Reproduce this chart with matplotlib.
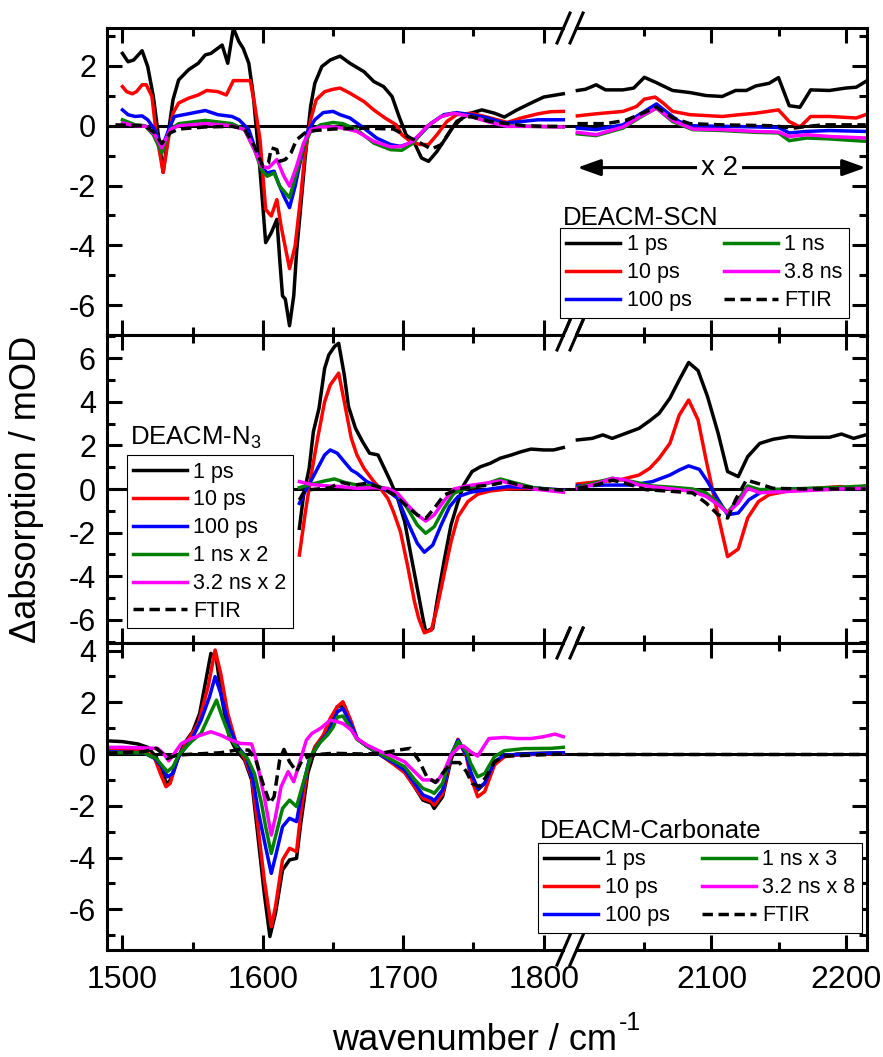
"""
Transient IR difference spectra of three DEACM compounds (broken wavenumber axis).
"""

import numpy as np
import matplotlib
matplotlib.use("Agg")
import matplotlib.pyplot as plt
from matplotlib.ticker import AutoMinorLocator

plt.rcParams['font.family'] = ['Liberation Sans', 'DejaVu Sans']
plt.rcParams['mathtext.default'] = 'regular'
plt.rcParams['axes.unicode_minus'] = False

# ---------------- DATA ----------------
# DEACM-SCN, right part (> 2000 cm-1) is shown x 2
SCN_LABELS = ["1 ps", "10 ps", "100 ps", "1 ns", "3.8 ns", "FTIR"]
SCN_1PS_X = [1500, 1504, 1508, 1514, 1518, 1522, 1526, 1529, 1533, 1536, 1540, 1547, 1554, 1559, 1563,
             1571, 1575, 1579, 1583, 1586, 1590, 1593, 1597, 1600, 1602, 1606, 1610, 1612, 1614, 1616,
             1619, 1622, 1624, 1627, 1630, 1634, 1637, 1642, 1648, 1655, 1662, 1672, 1679, 1686, 1692,
             1697, 1702, 1708, 1713, 1718, 1724, 1731, 1738, 1748, 1756, 1765, 1772, 1781, 1791, 1800, 1814,
             2000, 2006, 2014, 2021, 2034, 2042, 2050, 2059, 2071, 2084, 2096, 2108, 2118, 2126, 2133,
             2143, 2150, 2158, 2166, 2174, 2188, 2200, 2208, 2215]
SCN_1PS_Y = [2.42, 2.14, 2.2, 2.51, 1.98, 0.98, -0.47, -1.56, -0.13, 0.87, 1.53, 1.87, 2.09, 2.37, 2.42,
             2.7, 2.09, 3.26, 2.81, 2.59, 2.09, 1.09, -0.91, -2.69, -3.91, -3.58, -3.13, -4.47, -5.69, -5.8,
             -6.69, -5.69, -4.24, -2.69, -1.13, 0.64, 1.42, 1.98, 2.2, 2.33, 2.09, 1.81, 1.48, 1.31, 0.98,
             0.31, -0.3, -0.58, -1.08, -1.19, -0.86, -0.36, 0.14, 0.42, 0.53, 0.42, 0.29, 0.53, 0.76, 0.96, 1.07,
             1.18, 1.22, 1.37, 1.2, 1.2, 1.26, 1.62, 1.44, 1.18, 1.11, 1.01, 0.98, 1.18, 1.18, 1.33,
             1.42, 1.61, 0.67, 0.62, 1.2, 1.18, 1.26, 1.29, 1.48]
SCN_10PS_X = [1500, 1503, 1507, 1510, 1514, 1517, 1521, 1524, 1529, 1533, 1536, 1540, 1547, 1554, 1560,
              1568, 1574, 1579, 1591, 1594, 1598, 1602, 1606, 1610, 1613, 1619, 1623, 1627, 1630, 1634,
              1638, 1644, 1650, 1655, 1662, 1672, 1679, 1687, 1695, 1699, 1705, 1712, 1718, 1724, 1731,
              1738, 1748, 1758, 1767, 1774, 1784, 1796, 1805, 1814,
              2000, 2014, 2034, 2044, 2050, 2058, 2064, 2071, 2084, 2108, 2121, 2133, 2150, 2158, 2166,
              2174, 2188, 2208, 2215]
SCN_10PS_Y = [1.31, 1.14, 1.07, 1.14, 1.37, 1.37, 0.98, -0.24, -1.56, -0.36, 0.42, 0.76, 0.92, 1.03, 1.18,
              1.14, 1.03, 1.51, 1.51, 0.76, -0.47, -2.8, -3.02, -2.47, -3.36, -4.78, -4.02, -2.36, -0.91, 0.2,
              0.87, 1.14, 1.22, 1.26, 1.09, 0.81, 0.53, 0.26, 0.03, -0.3, -0.52, -0.63, -0.63, -0.3, 0.14,
              0.37, 0.42, 0.31, 0.2, 0.11, 0.26, 0.4, 0.47, 0.48,
              0.33, 0.4, 0.48, 0.64, 0.89, 0.96, 0.76, 0.48, 0.37, 0.31, 0.37, 0.42, 0.53, 0.14, -0.04,
              0.31, 0.31, 0.26, 0.37]
SCN_100PS_X = [1500, 1504, 1509, 1514, 1518, 1523, 1528, 1533, 1537, 1547, 1559, 1568, 1578, 1583, 1590,
               1594, 1599, 1603, 1608, 1611, 1615, 1619, 1623, 1628, 1632, 1637, 1643, 1650, 1655, 1662,
               1672, 1681, 1691, 1698, 1705, 1712, 1720, 1729, 1738, 1748, 1760, 1772, 1784, 1796, 1814,
               2000, 2014, 2034, 2046, 2059, 2066, 2076, 2086, 2108, 2133, 2150, 2158, 2171, 2188, 2215]
SCN_100PS_Y = [0.53, 0.37, 0.31, 0.33, 0.2, -0.13, -0.74, -0.13, 0.31, 0.4, 0.51, 0.37, 0.31, 0.2, -0.13,
               -0.69, -1.36, -1.58, -1.52, -1.91, -2.36, -2.74, -2.02, -0.91, -0.19, 0.2, 0.44, 0.48, 0.37, 0.26,
               -0.08, -0.41, -0.63, -0.69, -0.58, -0.3, 0.09, 0.37, 0.44, 0.37, 0.26, 0.09, 0.14, 0.2, 0.2,
               -0.08, -0.13, 0.03, 0.37, 0.73, 0.48, 0.14, 0.0, -0.02, -0.04, -0.06, -0.24, -0.19, -0.16, -0.19]
SCN_1NS_X = [1500, 1509, 1516, 1522, 1528, 1534, 1540, 1559, 1578, 1587, 1594, 1599, 1603, 1608, 1612,
             1619, 1624, 1629, 1634, 1641, 1650, 1657, 1667, 1679, 1691, 1699, 1707, 1717, 1727, 1736,
             1748, 1762, 1772, 1791, 1814,
             2000, 2014, 2034, 2046, 2059, 2071, 2086, 2108, 2133, 2150, 2158, 2171, 2188, 2215]
SCN_1NS_Y = [0.2, 0.03, 0.0, -0.3, -0.91, -0.13, 0.07, 0.18, 0.07, -0.13, -0.8, -1.47, -1.69, -1.58, -2.02,
             -2.41, -1.58, -0.69, -0.19, 0.03, 0.11, 0.07, -0.13, -0.58, -0.8, -0.82, -0.58, -0.02, 0.31, 0.42,
             0.31, 0.14, 0.0, -0.02, -0.04,
             -0.27, -0.33, -0.08, 0.26, 0.59, 0.14, -0.13, -0.16, -0.22, -0.24, -0.5, -0.41, -0.44, -0.52]
SCN_38NS_X = [1500, 1509, 1517, 1523, 1528, 1534, 1540, 1559, 1578, 1587, 1594, 1599, 1604, 1610, 1615,
              1619, 1624, 1629, 1634, 1642, 1650, 1657, 1667, 1679, 1691, 1699, 1707, 1717, 1727, 1736,
              1748, 1762, 1774, 1791, 1814,
              2000, 2014, 2034, 2046, 2059, 2071, 2086, 2108, 2133, 2150, 2158, 2171, 2188, 2215]
SCN_38NS_Y = [0.09, 0.0, -0.02, -0.3, -0.74, -0.13, 0.0, 0.07, 0.0, -0.13, -0.8, -1.36, -1.41, -1.13, -1.69,
              -2.02, -1.36, -0.58, -0.13, -0.04, -0.04, -0.08, -0.19, -0.52, -0.71, -0.69, -0.52, -0.02, 0.31, 0.42,
              0.31, 0.11, -0.02, -0.02, -0.04,
              -0.22, -0.3, -0.04, 0.29, 0.59, 0.18, -0.11, -0.13, -0.19, -0.21, -0.36, -0.3, -0.36, -0.41]
SCN_FTIR_X = [1495, 1516, 1523, 1528, 1534, 1540, 1559, 1578, 1587, 1594, 1600, 1604, 1606, 1610, 1612,
              1616, 1620, 1624, 1630, 1637, 1650, 1672, 1693, 1703, 1710, 1720, 1727, 1734, 1741, 1748,
              1762, 1774, 1786, 1800, 1814,
              2000, 2021, 2036, 2046, 2059, 2071, 2084, 2108, 2146, 2161, 2168, 2183, 2215]
SCN_FTIR_Y = [0.03, 0.0, -0.24, -0.6, -0.24, -0.11, -0.04, -0.02, -0.11, -0.69, -1.36, -1.24, -0.74, -0.8, -1.19,
              -1.13, -0.91, -0.47, -0.24, -0.16, -0.11, -0.08, -0.11, -0.36, -0.52, -0.78, -0.63, -0.13, 0.22, 0.31,
              0.14, 0.07, 0.0, -0.02, -0.02,
              0.07, 0.07, 0.18, 0.37, 0.62, 0.26, 0.07, 0.03, 0.0, -0.08, -0.04, 0.03, 0.03]

# DEACM-N3
N3_LABELS = ["1 ps", "10 ps", "100 ps", "1 ns x 2", "3.2 ns x 2", "FTIR"]
N3_1PS_X = [1626, 1629, 1633, 1636, 1640, 1644, 1647, 1651, 1654, 1658, 1661, 1666, 1671, 1676, 1682,
            1686, 1691, 1696, 1701, 1705, 1710, 1714, 1716, 1721, 1724, 1729, 1734, 1739, 1743, 1749,
            1755, 1762, 1769, 1777, 1784, 1791, 1800, 1807, 1814,
            2000, 2011, 2019, 2026, 2036, 2046, 2054, 2061, 2069, 2076, 2083, 2090, 2097, 2105, 2112,
            2120, 2127, 2136, 2146, 2158, 2171, 2188, 2197, 2206, 2215]
N3_1PS_Y = [-1.8, -0.28, 0.95, 2.63, 3.7, 5.53, 6.15, 6.53, 6.68, 5.23, 3.78, 2.78, 2.17, 1.64, 1.56,
            1.02, 0.34, -0.43, -1.5, -2.87, -4.56, -5.93, -6.54, -6.39, -5.17, -3.33, -1.65, -0.58, 0.18, 0.8,
            1.02, 1.18, 1.41, 1.56, 1.71, 1.83, 1.79, 1.79, 1.9,
            2.25, 2.32, 2.48, 2.32, 2.55, 2.78, 3.13, 3.47, 4.16, 5.0, 5.8, 5.43, 4.25, 2.55, 0.8,
            0.57, 1.48, 2.09, 2.28, 2.4, 2.37, 2.37, 2.52, 2.32, 2.48]
N3_10PS_X = [1626, 1630, 1634, 1639, 1644, 1648, 1654, 1658, 1663, 1667, 1672, 1679, 1684, 1689, 1693,
             1698, 1703, 1708, 1711, 1715, 1720, 1724, 1729, 1734, 1739, 1746, 1753, 1762, 1774, 1791, 1814,
             2000, 2016, 2031, 2046, 2054, 2061, 2069, 2076, 2083, 2090, 2096, 2104, 2112, 2120, 2127,
             2135, 2143, 2158, 2176, 2196, 2206, 2215]
N3_10PS_Y = [-3.03, -1.19, 0.49, 2.32, 4.0, 4.77, 5.31, 4.0, 2.32, 1.56, 0.95, 0.34, 0.0, -0.43, -1.04,
             -1.96, -3.49, -5.17, -5.93, -6.59, -6.47, -5.47, -3.94, -2.42, -1.27, -0.58, -0.24, -0.09, 0.0, 0.03, -0.05,
             0.23, 0.34, 0.41, 0.64, 0.95, 1.41, 2.09, 3.39, 4.08, 3.17, 1.33, -0.95, -3.1, -2.75, -1.33,
             -0.58, -0.26, -0.08, 0.03, 0.11, 0.03, 0.14]
N3_100PS_X = [1626, 1630, 1634, 1639, 1644, 1648, 1653, 1658, 1663, 1667, 1674, 1682, 1689, 1696, 1703,
              1710, 1715, 1721, 1727, 1733, 1739, 1748, 1762, 1774, 1791, 1814,
              2000, 2021, 2041, 2056, 2069, 2076, 2083, 2091, 2097, 2105, 2112, 2120, 2128, 2138, 2158, 2215]
N3_100PS_Y = [-0.66, -0.12, 0.34, 0.95, 1.56, 1.79, 1.64, 1.25, 0.87, 0.72, 0.34, 0.11, -0.09, -0.43, -1.5,
              -2.49, -2.9, -2.57, -1.65, -0.81, -0.35, -0.15, 0.0, 0.11, 0.06, -0.05,
              0.14, 0.18, 0.18, 0.34, 0.64, 0.87, 1.06, 0.9, 0.35, -0.49, -1.18, -1.1, -0.49, -0.11, 0.0, 0.03]
N3_1NS_X = [1626, 1634, 1644, 1651, 1658, 1667, 1679, 1689, 1696, 1703, 1710, 1716, 1722, 1729, 1736,
            1746, 1758, 1769, 1781, 1793, 1814,
            2000, 2026, 2041, 2056, 2071, 2086, 2096, 2105, 2112, 2120, 2127, 2136, 2158, 2196, 2215]
N3_1NS_Y = [0.06, 0.21, 0.37, 0.46, 0.31, 0.18, 0.15, 0.0, -0.24, -0.89, -1.65, -2.03, -1.73, -0.89, -0.2,
            0.06, 0.21, 0.46, 0.26, 0.06, -0.09,
            0.08, 0.49, 0.34, 0.14, 0.08, 0.0, -0.18, -0.64, -1.07, -0.49, 0.14, -0.03, 0.0, 0.08, 0.14]
N3_32NS_X = [1626, 1634, 1644, 1655, 1667, 1679, 1689, 1696, 1703, 1710, 1716, 1722, 1729, 1736, 1746,
             1758, 1769, 1781, 1793, 1814,
             2000, 2014, 2026, 2036, 2046, 2059, 2071, 2086, 2096, 2105, 2112, 2120, 2127, 2136, 2158, 2196, 2215]
N3_32NS_Y = [0.34, 0.21, 0.15, 0.11, 0.03, 0.06, 0.03, -0.2, -0.73, -1.19, -1.47, -1.19, -0.55, 0.0, 0.15,
             0.26, 0.37, 0.18, 0.0, -0.15,
             0.03, 0.23, 0.49, 0.41, 0.18, 0.08, 0.0, -0.11, -0.34, -0.72, -1.1, -0.64, 0.03, -0.17, -0.11, 0.0, 0.03]
N3_FTIR_X = [1626, 1630, 1639, 1648, 1655, 1665, 1674, 1684, 1693, 1703, 1710, 1716, 1722, 1729, 1739,
             1750, 1762, 1774, 1786, 1800, 1814,
             2000, 2014, 2026, 2036, 2051, 2071, 2086, 2096, 2105, 2112, 2118, 2126, 2136, 2146, 2171, 2215]
N3_FTIR_Y = [-0.5, -0.05, 0.0, 0.06, 0.31, 0.18, 0.26, 0.06, -0.24, -0.81, -1.19, -1.35, -0.89, -0.28, 0.0,
             0.11, 0.18, 0.34, 0.11, 0.0, -0.05,
             0.03, 0.18, 0.41, 0.26, -0.03, -0.11, -0.18, -0.64, -1.18, -1.33, -0.49, 0.41, 0.23, 0.03, 0.0, 0.0]

# DEACM-Carbonate
CARB_LABELS = ["1 ps", "10 ps", "100 ps", "1 ns x 3", "3.2 ns x 8", "FTIR"]
CARB_1PS_X = [1489, 1500, 1511, 1518, 1524, 1528, 1532, 1534, 1539, 1544, 1550, 1555, 1559, 1563, 1567,
              1571, 1576, 1581, 1587, 1592, 1596, 1601, 1605, 1609, 1614, 1619, 1624, 1627, 1632, 1637,
              1641, 1646, 1650, 1653, 1658, 1663, 1667, 1674, 1684, 1693, 1701, 1708, 1714, 1720, 1722,
              1728, 1734, 1739, 1745, 1748, 1753, 1758, 1765, 1772, 1781, 1796, 1814]
CARB_1PS_Y = [0.51, 0.48, 0.39, 0.26, -0.1, -0.68, -1.2, -1.0, -0.23, 0.41, 0.86, 1.57, 2.73, 3.89, 3.63,
              2.08, 0.67, 0.15, -0.23, -1.0, -2.93, -5.38, -7.05, -6.15, -4.48, -4.09, -4.03, -2.68, -0.75, 0.15,
              0.48, 0.93, 1.44, 1.83, 1.89, 1.18, 0.6, 0.31, -0.04, -0.36, -0.68, -1.26, -1.78, -1.9, -2.1,
              -1.65, -0.23, 0.54, -0.04, -0.75, -1.39, -1.13, -0.36, -0.1, 0.0, 0.03, 0.05]
CARB_10PS_X = [1489, 1500, 1515, 1523, 1527, 1531, 1534, 1539, 1546, 1554, 1561, 1566, 1570, 1575, 1581,
               1587, 1592, 1596, 1601, 1606, 1609, 1614, 1619, 1624, 1627, 1632, 1637, 1643, 1648, 1653,
               1657, 1663, 1667, 1674, 1684, 1693, 1701, 1708, 1714, 1720, 1722, 1728, 1734, 1739, 1745,
               1748, 1753, 1758, 1765, 1772, 1781, 1814]
CARB_10PS_Y = [0.22, 0.18, 0.15, -0.17, -0.75, -1.26, -1.13, -0.23, 0.48, 1.18, 2.6, 4.02, 3.11, 1.57, 0.41,
               -0.17, -0.88, -2.55, -4.86, -6.67, -5.89, -4.09, -3.64, -3.77, -2.29, -0.49, 0.28, 0.73, 1.38, 1.83,
               2.02, 1.25, 0.6, 0.31, -0.04, -0.39, -0.72, -1.26, -1.71, -1.84, -1.97, -1.54, -0.1, 0.57, -0.1,
               -0.88, -1.65, -1.45, -0.42, -0.1, -0.04, 0.03]
CARB_100PS_X = [1489, 1515, 1523, 1529, 1532, 1536, 1540, 1549, 1556, 1562, 1566, 1570, 1576, 1582, 1588,
                1593, 1597, 1602, 1606, 1609, 1614, 1619, 1624, 1628, 1633, 1639, 1646, 1650, 1653, 1657,
                1663, 1667, 1674, 1684, 1693, 1701, 1708, 1714, 1720, 1722, 1728, 1734, 1739, 1745, 1748,
                1753, 1758, 1765, 1772, 1814]
CARB_100PS_Y = [0.09, 0.05, -0.17, -0.55, -0.88, -0.75, -0.1, 0.54, 1.31, 2.21, 2.99, 2.34, 1.06, 0.28, -0.1,
                -1.0, -2.29, -3.6, -4.61, -3.96, -2.81, -2.48, -2.61, -1.39, -0.23, 0.35, 0.8, 1.2, 1.63, 1.76,
                1.12, 0.6, 0.31, -0.04, -0.33, -0.62, -1.13, -1.58, -1.71, -1.81, -1.39, -0.04, 0.54, -0.04, -0.68,
                -1.33, -1.13, -0.3, -0.04, 0.05]
CARB_1NS_X = [1489, 1515, 1524, 1529, 1532, 1536, 1540, 1549, 1556, 1562, 1567, 1571, 1577, 1583, 1589,
              1594, 1599, 1602, 1606, 1609, 1614, 1619, 1624, 1630, 1634, 1640, 1646, 1650, 1653, 1657,
              1663, 1667, 1674, 1684, 1693, 1701, 1708, 1714, 1720, 1722, 1728, 1734, 1739, 1745, 1748,
              1753, 1758, 1765, 1772, 1786, 1805, 1814]
CARB_1NS_Y = [0.05, 0.05, -0.17, -0.49, -0.68, -0.49, -0.04, 0.48, 0.8, 1.51, 2.08, 1.44, 0.6, 0.15, -0.17,
              -0.75, -1.9, -2.81, -3.84, -3.19, -2.1, -1.78, -2.03, -0.88, -0.1, 0.41, 0.73, 1.03, 1.42, 1.47,
              0.95, 0.57, 0.31, 0.0, -0.26, -0.49, -0.98, -1.33, -1.45, -1.52, -1.13, -0.04, 0.48, 0.09, -0.36,
              -0.88, -0.75, -0.1, 0.13, 0.21, 0.22, 0.26]
CARB_32NS_X = [1489, 1500, 1525, 1529, 1533, 1537, 1542, 1549, 1558, 1563, 1570, 1576, 1584, 1592, 1596,
               1601, 1606, 1609, 1613, 1618, 1622, 1626, 1631, 1635, 1641, 1648, 1653, 1657, 1663, 1667,
               1674, 1684, 1693, 1701, 1708, 1714, 1720, 1724, 1729, 1734, 1740, 1743, 1748, 1753, 1761,
               1772, 1781, 1791, 1800, 1808, 1814]
CARB_32NS_Y = [0.26, 0.26, 0.22, 0.03, -0.26, 0.03, 0.41, 0.6, 0.77, 0.86, 0.73, 0.57, 0.41, 0.39, -0.36,
               -1.65, -3.13, -2.42, -1.26, -0.68, -1.07, -0.36, 0.54, 0.8, 0.99, 1.31, 1.25, 1.18, 0.93, 0.6,
               0.35, 0.09, -0.1, -0.3, -0.68, -1.0, -1.0, -1.07, -0.68, -0.04, 0.28, 0.31, 0.09, -0.08, 0.6,
               0.64, 0.6, 0.6, 0.67, 0.77, 0.67]
CARB_FTIR_X = [1489, 1515, 1524, 1527, 1532, 1539, 1551, 1570, 1584, 1590, 1595, 1600, 1605, 1608, 1612,
               1615, 1619, 1624, 1628, 1634, 1650, 1672, 1684, 1696, 1705, 1711, 1717, 1723, 1729, 1734,
               1740, 1745, 1749, 1754, 1759, 1765, 1772, 1814,
               2000, 2215]
CARB_FTIR_Y = [0.03, 0.09, 0.22, 0.09, -0.17, -0.04, 0.0, 0.05, 0.18, 0.15, -0.23, -1.13, -1.9, -1.65, -0.23,
               0.18, -0.3, -0.68, -0.23, -0.04, 0.03, 0.0, 0.03, 0.15, 0.22, -0.23, -0.9, -1.1, -0.68, -0.33,
               -0.33, -0.68, -1.13, -1.26, -0.88, -0.3, -0.08, 0.0,
               0.0, 0.0]

XTICKS = [1500, 1600, 1700, 1800, 2100, 2200]
XTICK_LABELS = ["1500", "1600", "1700", "1800", "2100", "2200"]
XTICKS_MINOR = [1550, 1650, 1750, 2050, 2150]

# ---------------- STYLE / LAYOUT ----------------
COLORS = ["black", "red", "blue", "#008000", "magenta", "black"]
LW = 2.2          # spines, ticks, zero line
LW_DATA = 2.5     # spectra
BREAK_LO, BREAK_HI = 1814.0, 2000.0   # wavenumbers cut out of the axis
GAP = 10.0                            # width of the cut on the scaled axis
K_RIGHT = 0.955                       # right part is drawn slightly compressed
XLIM = (1489, 2216)


def fwd(x):
    x = np.asarray(x, dtype=float)
    mid = BREAK_LO + (x - BREAK_LO) * GAP / (BREAK_HI - BREAK_LO)
    right = BREAK_LO + GAP + (x - BREAK_HI) * K_RIGHT
    return np.where(x <= BREAK_LO, x, np.where(x >= BREAK_HI, right, mid))


def inv(u):
    u = np.asarray(u, dtype=float)
    mid = BREAK_LO + (u - BREAK_LO) * (BREAK_HI - BREAK_LO) / GAP
    right = BREAK_HI + (u - BREAK_LO - GAP) / K_RIGHT
    return np.where(u <= BREAK_LO, u, np.where(u >= BREAK_LO + GAP, right, mid))


def plot_split(ax, x, y, color, label, dashed=False):
    # left and right of the break are drawn as separate lines
    x = np.asarray(x, dtype=float)
    y = np.asarray(y, dtype=float)
    left = x <= BREAK_LO + 1
    kw = dict(color=color, lw=LW_DATA)
    if dashed:
        kw["linestyle"] = (0, (3, 1.6))
    line, = ax.plot(x[left], y[left], label=label, **kw)
    if (~left).any():
        ax.plot(x[~left], y[~left], **kw)
    return line


def style_axes(ax, ylim, yticks, show_xlabels):
    ax.set_xscale("function", functions=(fwd, inv))
    ax.set_xlim(*XLIM)
    ax.set_ylim(*ylim)
    ax.set_xticks(XTICKS)
    ax.set_xticklabels(XTICK_LABELS)
    ax.set_xticks(XTICKS_MINOR, minor=True)
    ax.set_yticks(yticks)
    ax.yaxis.set_minor_locator(AutoMinorLocator(2))
    ax.tick_params(which="both", direction="in", top=True, right=True, width=LW)
    ax.tick_params(which="major", length=10.8)
    ax.tick_params(which="minor", length=5.8)
    ax.tick_params(axis="y", labelsize=22, pad=8)
    ax.tick_params(axis="x", labelsize=23, pad=11, labelbottom=show_xlabels)
    for sp in ax.spines.values():
        sp.set_linewidth(LW)
    ax.axhline(0, color="black", lw=LW, zorder=1.5)

    # break marks  //  on top and bottom spines
    dx, dy = 6.5 / 760, 15 / ax.bbox.height
    for yy in (0, 1):
        ax.plot([0.6025, 0.616], [yy, yy], transform=ax.transAxes, color="white",
                lw=4, clip_on=False, zorder=5, solid_capstyle="butt")
        for xc in (0.6007, 0.6178):
            ax.plot([xc - dx, xc + dx], [yy - dy, yy + dy], transform=ax.transAxes,
                    color="black", lw=LW, clip_on=False, zorder=6)


def add_legend(ax, handles, labels, ncol, anchor):
    leg = ax.legend(handles, labels, ncol=ncol, loc="upper left", bbox_to_anchor=anchor,
                    frameon=True, fancybox=False, edgecolor="black", framealpha=1,
                    fontsize=15.5, handlelength=2.5, handletextpad=0.3, columnspacing=1.5,
                    labelspacing=0.32, borderpad=0.3, borderaxespad=0)
    leg.get_frame().set_linewidth(0.8)
    return leg


fig = plt.figure(figsize=(8.83, 10.57), dpi=100)
left, width = 107 / 883, 760 / 883
ax1 = fig.add_axes([left, 1 - 335 / 1057, width, 307 / 1057])
ax2 = fig.add_axes([left, 1 - 643 / 1057, width, 308 / 1057])
ax3 = fig.add_axes([left, 1 - 950 / 1057, width, 307 / 1057])

panels = [
    (ax1, [(SCN_1PS_X, SCN_1PS_Y), (SCN_10PS_X, SCN_10PS_Y), (SCN_100PS_X, SCN_100PS_Y),
           (SCN_1NS_X, SCN_1NS_Y), (SCN_38NS_X, SCN_38NS_Y), (SCN_FTIR_X, SCN_FTIR_Y)], SCN_LABELS),
    (ax2, [(N3_1PS_X, N3_1PS_Y), (N3_10PS_X, N3_10PS_Y), (N3_100PS_X, N3_100PS_Y),
           (N3_1NS_X, N3_1NS_Y), (N3_32NS_X, N3_32NS_Y), (N3_FTIR_X, N3_FTIR_Y)], N3_LABELS),
    (ax3, [(CARB_1PS_X, CARB_1PS_Y), (CARB_10PS_X, CARB_10PS_Y), (CARB_100PS_X, CARB_100PS_Y),
           (CARB_1NS_X, CARB_1NS_Y), (CARB_32NS_X, CARB_32NS_Y), (CARB_FTIR_X, CARB_FTIR_Y)], CARB_LABELS),
]

handles = {}
for ax, series, labels in panels:
    hs = []
    for i, (x, y) in enumerate(series):
        hs.append(plot_split(ax, x, y, COLORS[i], labels[i], dashed=(i == 5)))
    handles[ax] = hs

style_axes(ax1, (-7.0, 3.27), [-6, -4, -2, 0, 2], False)
style_axes(ax2, (-7.06, 7.06), [-6, -4, -2, 0, 2, 4, 6], False)
style_axes(ax3, (-7.57, 4.29), [-6, -4, -2, 0, 2, 4], True)

# legends + sample names
add_legend(ax1, handles[ax1], SCN_LABELS, 2, (0.596, 0.349))
ax1.text(0.600, 0.358, "DEACM-SCN", transform=ax1.transAxes, fontsize=18.5, va="baseline")

add_legend(ax2, handles[ax2], N3_LABELS, 1, (0.026, 0.61))
ax2.text(0.030, 0.643, "DEACM-N$_3$", transform=ax2.transAxes, fontsize=18.5, va="baseline")

add_legend(ax3, handles[ax3], CARB_LABELS, 2, (0.567, 0.349))
ax3.text(0.570, 0.365, "DEACM-Carbonate", transform=ax3.transAxes, fontsize=18.5, va="baseline")

# "x 2" scaling marker for the SCN region above 2000 cm-1
ax1.annotate("", xy=(2000, -1.4), xytext=(2215, -1.4),
             arrowprops=dict(arrowstyle="<|-|>,head_length=0.7,head_width=0.25",
                             color="black", lw=LW, shrinkA=0, shrinkB=0, mutation_scale=20))
ax1.text(2106, -1.4, "x 2", fontsize=20, ha="center", va="center",
         bbox=dict(facecolor="white", edgecolor="none", pad=3))

fig.text(107 / 883 * 0.25, 1 - 489 / 1057, "\u0394absorption / mOD", rotation=90,
         ha="center", va="center", fontsize=26)

# x label with a plain hyphen in the exponent: main text + superscript
W, H = fig.get_size_inches() * fig.dpi
renderer = fig.canvas.get_renderer()
xl_main = fig.text(0, 1 - 1050 / H, "wavenumber / cm", fontsize=26, va="baseline")
xl_sup = fig.text(0, 1 - 1030 / H, "-1", fontsize=18, va="baseline")
w_main = xl_main.get_window_extent(renderer).width
w_sup = xl_sup.get_window_extent(renderer).width
x0 = 487 - (w_main + w_sup + 2) / 2
xl_main.set_x(x0 / W)
xl_sup.set_x((x0 + w_main + 2) / W)

fig.savefig("out.png", dpi=100)
plt.close(fig)
